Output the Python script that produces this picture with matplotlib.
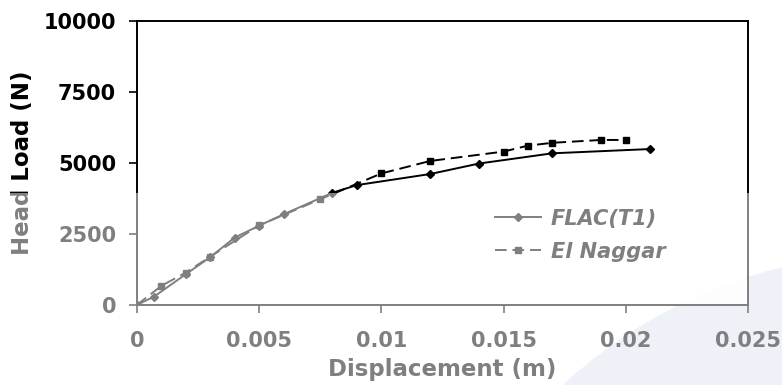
#!/usr/bin/env python3
"""
Head load vs displacement: FLAC(T1) against El Naggar.
"""

import matplotlib
matplotlib.use('Agg')
import matplotlib.pyplot as plt
from matplotlib.patches import Rectangle, Circle

plt.rcParams['font.family'] = ['DejaVu Sans']
plt.rcParams['font.weight'] = 'bold'

# Data
flac_disp = [0, 0.0007, 0.002, 0.003, 0.004, 0.005, 0.006, 0.008, 0.009,
             0.012, 0.014, 0.017, 0.021]
flac_load = [0, 290, 1080, 1680, 2370, 2790, 3190, 3950, 4220,
             4610, 4980, 5340, 5490]

naggar_disp = [0, 0.001, 0.002, 0.003, 0.005, 0.0075, 0.01, 0.012,
               0.015, 0.016, 0.017, 0.019, 0.02]
naggar_load = [0, 670, 1140, 1700, 2800, 3720, 4630, 5070,
               5400, 5610, 5710, 5810, 5810]

x_ticks = [0, 0.005, 0.01, 0.015, 0.02, 0.025]
x_tick_labels = ['0', '0.005', '0.01', '0.015', '0.02', '0.025']
y_ticks = [0, 2500, 5000, 7500, 10000]

fs = 15

fig = plt.figure(figsize=(7.82, 3.85), dpi=100)

# pale blue disc in the lower right of the background
fig.add_artist(Circle((900, -365), 497, transform=None, facecolor='#dde4f1',
                      edgecolor='none', zorder=-5))

ax = fig.add_axes([0.175, 0.208, 0.7815, 0.7375])
ax.patch.set_facecolor('white')
ax.patch.set_alpha(0.9)

ax.plot(flac_disp, flac_load, color='black', linewidth=1.4, marker='D',
        markersize=4, label='FLAC(T1)')
ax.plot(naggar_disp, naggar_load, color='black', linewidth=1.4,
        linestyle=(0, (6, 3)), marker='s', markersize=5, label='El Naggar')

ax.set_xlim(0, 0.025)
ax.set_ylim(0, 10000)
ax.set_xticks(x_ticks)
ax.set_xticklabels(x_tick_labels)
ax.set_yticks(y_ticks)
ax.tick_params(direction='out', length=6, width=1.2, labelsize=fs, pad=13)
ax.tick_params(axis='y', pad=9)
for s in ax.spines.values():
    s.set_linewidth(1.4)

ax.set_xlabel('Displacement (m)', fontsize=16.5, fontweight='bold', labelpad=5)
ax.set_ylabel('Head Load (N)', fontsize=16.5, fontweight='bold', labelpad=7)

leg = ax.legend(loc='upper left', bbox_to_anchor=(0.555, 0.405), frameon=False,
                fontsize=fs, handlelength=2.2, handletextpad=0.5,
                labelspacing=0.62)
for t in leg.get_texts():
    t.set_fontstyle('italic')
    t.set_fontweight('bold')

# washed-out lower part of the picture
fig.add_artist(Rectangle((0, 0), 1, 192 / 385, transform=fig.transFigure,
                         facecolor='white', alpha=0.5, edgecolor='none',
                         zorder=10))

plt.savefig('out.png', dpi=100)
plt.close()
